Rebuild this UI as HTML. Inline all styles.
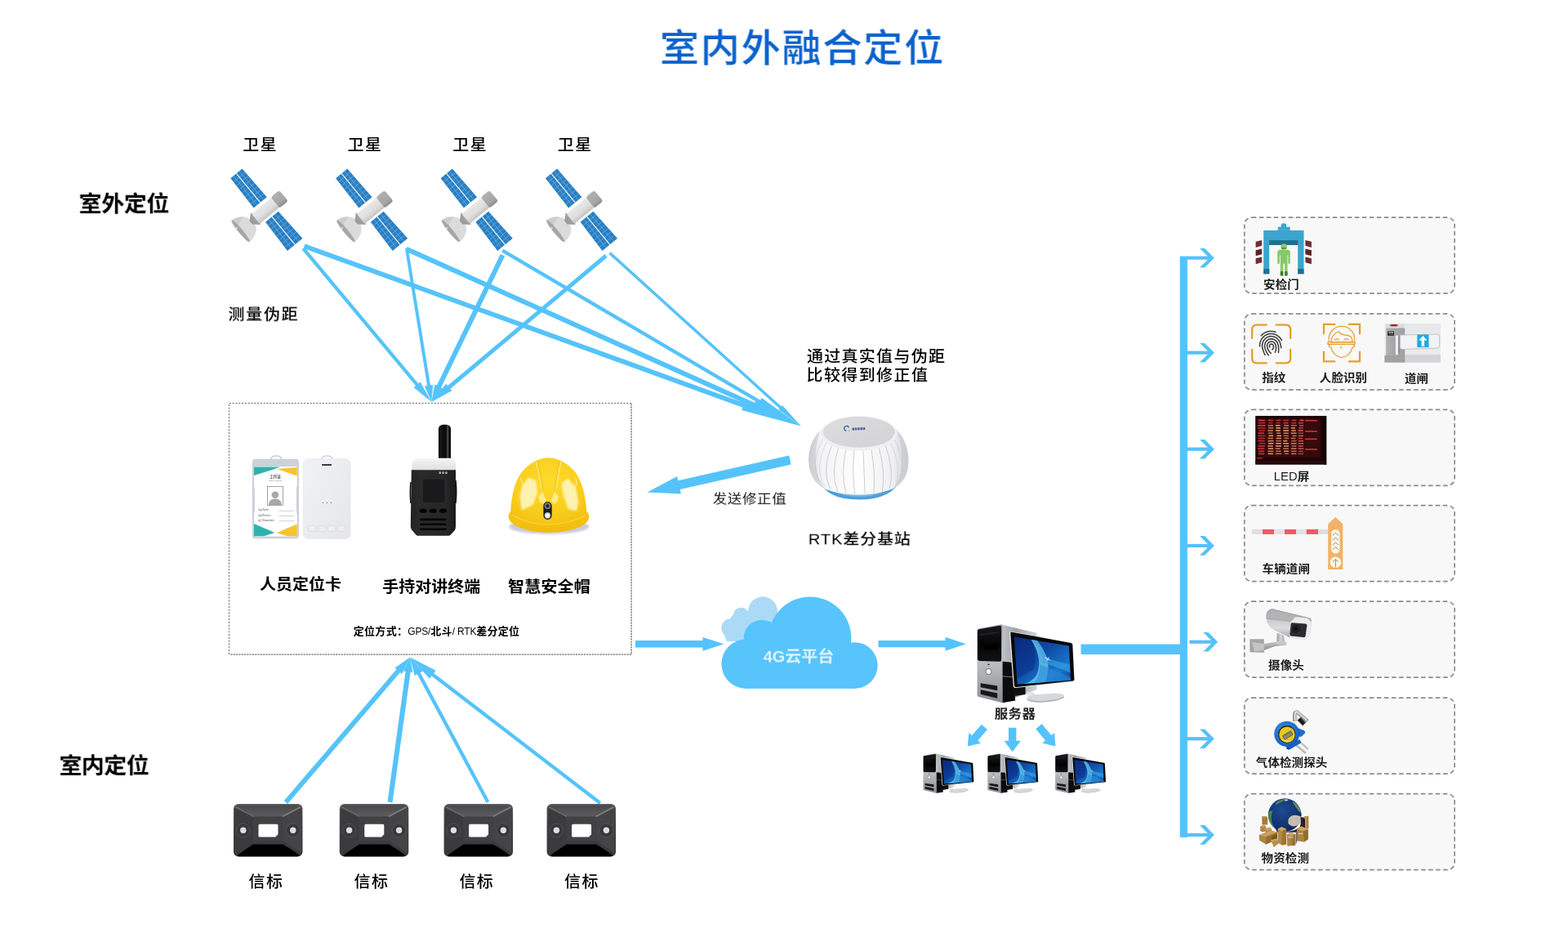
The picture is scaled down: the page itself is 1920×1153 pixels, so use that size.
<!DOCTYPE html>
<html lang="zh-CN">
<head>
<meta charset="utf-8">
<title>室内外融合定位</title>
<style>
html,body{margin:0;padding:0;background:#fff;}
body{width:1920px;height:1153px;overflow:hidden;position:relative;font-family:"Liberation Sans","Noto Sans CJK SC",sans-serif;}
svg{position:absolute;left:0;top:0;display:block;will-change:transform;}
svg text{font-family:"Liberation Sans","Noto Sans CJK SC",sans-serif;}
.t{position:absolute;white-space:nowrap;line-height:1;color:#000;margin:0;}
</style>
</head>
<body>
<svg width="1920" height="1153" viewBox="0 0 1920 1153">
<defs>
<linearGradient id="gBody" x1="0" y1="0" x2="1" y2="0"><stop offset="0" stop-color="#e9e9e9"/><stop offset="0.6" stop-color="#dedede"/><stop offset="1" stop-color="#c4c4c4"/></linearGradient>
<linearGradient id="gCap" x1="0" y1="0" x2="1" y2="0"><stop offset="0" stop-color="#b0b0b0"/><stop offset="0.7" stop-color="#a6a6a6"/><stop offset="1" stop-color="#8c8c8c"/></linearGradient>
<g id="sat"><g transform="translate(326.2,257.0) rotate(50.5)"><polygon points="-57.8,-9.2 -11.8,-10.5 -11.8,10.5 -57.8,9.2" fill="#2a7fc3"/><line x1="-52.0" y1="-9.4" x2="-52.0" y2="9.4" stroke="#6db2e4" stroke-width="0.7"/><line x1="-46.3" y1="-9.5" x2="-46.3" y2="9.5" stroke="#6db2e4" stroke-width="0.7"/><line x1="-40.5" y1="-9.7" x2="-40.5" y2="9.7" stroke="#6db2e4" stroke-width="0.7"/><line x1="-34.8" y1="-9.8" x2="-34.8" y2="9.8" stroke="#6db2e4" stroke-width="0.7"/><line x1="-29.0" y1="-10.0" x2="-29.0" y2="10.0" stroke="#6db2e4" stroke-width="0.7"/><line x1="-23.3" y1="-10.2" x2="-23.3" y2="10.2" stroke="#6db2e4" stroke-width="0.7"/><line x1="-17.5" y1="-10.3" x2="-17.5" y2="10.3" stroke="#6db2e4" stroke-width="0.7"/><line x1="-57.8" y1="-4.6" x2="-11.8" y2="-5.2" stroke="#6db2e4" stroke-width="0.7"/><line x1="-57.8" y1="4.6" x2="-11.8" y2="5.2" stroke="#6db2e4" stroke-width="0.7"/><line x1="-57.8" y1="0" x2="-11.8" y2="0" stroke="#eaf3fb" stroke-width="1.3"/><polygon points="10.6,-10.2 55.0,-12.0 55.0,12.0 10.6,10.2" fill="#2a7fc3"/><line x1="16.1" y1="-10.4" x2="16.1" y2="10.4" stroke="#6db2e4" stroke-width="0.7"/><line x1="21.7" y1="-10.6" x2="21.7" y2="10.6" stroke="#6db2e4" stroke-width="0.7"/><line x1="27.2" y1="-10.9" x2="27.2" y2="10.9" stroke="#6db2e4" stroke-width="0.7"/><line x1="32.8" y1="-11.1" x2="32.8" y2="11.1" stroke="#6db2e4" stroke-width="0.7"/><line x1="38.4" y1="-11.3" x2="38.4" y2="11.3" stroke="#6db2e4" stroke-width="0.7"/><line x1="43.9" y1="-11.6" x2="43.9" y2="11.6" stroke="#6db2e4" stroke-width="0.7"/><line x1="49.5" y1="-11.8" x2="49.5" y2="11.8" stroke="#6db2e4" stroke-width="0.7"/><line x1="10.6" y1="-5.1" x2="55.0" y2="-6.0" stroke="#6db2e4" stroke-width="0.7"/><line x1="10.6" y1="5.1" x2="55.0" y2="6.0" stroke="#6db2e4" stroke-width="0.7"/><line x1="10.6" y1="0" x2="55.0" y2="0" stroke="#eaf3fb" stroke-width="1.3"/><path d="M-17.2 41 C-17 29 -8 21.5 2 21.5 C11 21.8 17 30 17 41 Z" fill="#dbdbdb"/><path d="M-17.2 41 C-17 35 -14.5 30 -11 27 C-11 33 -8 38 -4 41 Z" fill="#cdcdcd"/><ellipse cx="-0.1" cy="40.8" rx="17.2" ry="2.7" fill="#a6a6a6"/><circle cx="-6" cy="42" r="1.1" fill="#e6e6e6"/><path d="M-9 17.5 L9 17.5 L2.6 24.5 L-2.6 24.5 Z" fill="#9c9c9c"/><ellipse cx="0" cy="17.3" rx="9.2" ry="2.4" fill="#a2a2a2"/><rect x="-7.8" y="-15" width="15.6" height="32" rx="1.2" fill="url(#gBody)"/><rect x="-8.6" y="-27.5" width="17.2" height="13.5" rx="3" fill="url(#gCap)"/></g></g>
<linearGradient id="gBk" x1="0" y1="0" x2="0" y2="1"><stop offset="0" stop-color="#58585a"/><stop offset="0.45" stop-color="#404042"/><stop offset="1" stop-color="#38383a"/></linearGradient>
<linearGradient id="gBkTop" x1="0" y1="0" x2="0" y2="1"><stop offset="0" stop-color="#4a4a4c"/><stop offset="1" stop-color="#5c5c5e"/></linearGradient>
<g id="beacon">
<rect x="0" y="0" width="84.5" height="64.5" rx="6" fill="url(#gBk)"/>
<path d="M3 2 L81.5 2 L60 15.5 L24.5 15.5 Z" fill="url(#gBkTop)"/>
<path d="M1.5 5 L24 16 L24 45 L1.5 60 Z" fill="#3b3b3d"/>
<path d="M83 5 L60.5 16 L60.5 45 L83 60 Z" fill="#444446"/>
<rect x="24" y="15.5" width="36.5" height="30" fill="#414143"/>
<path d="M3 4 L24.5 15.5" stroke="#7a7a7c" stroke-width="1.4" fill="none" opacity="0.7"/>
<path d="M81.5 4 L60 15.5" stroke="#8a8a8c" stroke-width="1.6" fill="none" opacity="0.8"/>
<path d="M5 62.5 Q14 56 24 49.5 L60.5 49.5 Q72 56 80 62.5 Q81 64 78 64.3 L6.5 64.3 Q4 64 5 62.5 Z" fill="#000"/>
<path d="M32 24.8 h21 a1.5 1.5 0 0 1 1.5 1.5 v11 l-3.2 3.2 h-19.3 a1.5 1.5 0 0 1 -1.5 -1.5 v-12.7 a1.5 1.5 0 0 1 1.5 -1.5 Z" fill="#fff"/>
<circle cx="11.8" cy="32.3" r="8.2" fill="#38383a" stroke="#555557" stroke-width="0.8"/>
<circle cx="11.8" cy="32.3" r="3.7" fill="#dedede"/>
<circle cx="72.8" cy="32.3" r="8.2" fill="#38383a" stroke="#555557" stroke-width="0.8"/>
<circle cx="72.8" cy="32.3" r="3.7" fill="#dedede"/>
</g>
<linearGradient id="gWhiteCard" x1="0" y1="0" x2="1" y2="1"><stop offset="0" stop-color="#f1f2f5"/><stop offset="1" stop-color="#e4e6ea"/></linearGradient>
<linearGradient id="gAnt" x1="0" y1="0" x2="1" y2="0"><stop offset="0" stop-color="#1a1a1a"/><stop offset="0.5" stop-color="#0a0a0a"/><stop offset="0.66" stop-color="#151515"/><stop offset="0.74" stop-color="#5a5a5a"/><stop offset="0.84" stop-color="#111"/><stop offset="1" stop-color="#0a0a0a"/></linearGradient>
<linearGradient id="gWT" x1="0" y1="0" x2="1" y2="0"><stop offset="0" stop-color="#232323"/><stop offset="0.2" stop-color="#2a2a2a"/><stop offset="0.8" stop-color="#262626"/><stop offset="1" stop-color="#1a1a1a"/></linearGradient>
<linearGradient id="gWTtop" x1="0" y1="0" x2="0" y2="1"><stop offset="0" stop-color="#f6f6f6"/><stop offset="1" stop-color="#dcdcdc"/></linearGradient>
<radialGradient id="gHelm" cx="0.5" cy="0.35" r="0.8"><stop offset="0" stop-color="#fdda2c"/><stop offset="0.6" stop-color="#f9cd1c"/><stop offset="1" stop-color="#f2bd0e"/></radialGradient>
<linearGradient id="gBrim" x1="0" y1="0" x2="0" y2="1"><stop offset="0" stop-color="#f7c618"/><stop offset="1" stop-color="#f1bb0c"/></linearGradient>
<linearGradient id="gRtk" x1="0" y1="0" x2="1" y2="0"><stop offset="0" stop-color="#d9dadd"/><stop offset="0.12" stop-color="#f3f3f5"/><stop offset="0.5" stop-color="#ffffff"/><stop offset="0.85" stop-color="#efeff1"/><stop offset="1" stop-color="#cfd0d4"/></linearGradient>
<linearGradient id="gRtkTop" x1="0" y1="0" x2="1" y2="1"><stop offset="0" stop-color="#dedee0"/><stop offset="1" stop-color="#d2d2d5"/></linearGradient>
<filter id="soft" x="-20%" y="-20%" width="140%" height="140%"><feGaussianBlur stdDeviation="1.2"/></filter>
<filter id="soft3" x="-20%" y="-20%" width="140%" height="140%"><feGaussianBlur stdDeviation="0.9"/></filter>
<filter id="soft2" x="-20%" y="-20%" width="140%" height="140%"><feGaussianBlur stdDeviation="0.5"/></filter>
<linearGradient id="gScr" x1="0" y1="0" x2="1" y2="1"><stop offset="0" stop-color="#0a2a7c"/><stop offset="0.45" stop-color="#0f4ea8"/><stop offset="0.75" stop-color="#1878cc"/><stop offset="1" stop-color="#0c3a92"/></linearGradient>
<linearGradient id="gSilver" x1="0" y1="0" x2="0" y2="1"><stop offset="0" stop-color="#a4a8ab"/><stop offset="0.35" stop-color="#c9ccce"/><stop offset="1" stop-color="#8a8e92"/></linearGradient>
<linearGradient id="gSide" x1="0" y1="0" x2="1" y2="0"><stop offset="0" stop-color="#c4c7ca"/><stop offset="0.4" stop-color="#9fa3a7"/><stop offset="1" stop-color="#d2d5d7"/></linearGradient>
<linearGradient id="gBlk" x1="0" y1="0" x2="0" y2="1"><stop offset="0" stop-color="#1a1a1c"/><stop offset="0.5" stop-color="#050506"/><stop offset="1" stop-color="#121214"/></linearGradient>
<clipPath id="scrClip"><path d="M46 16.2 L113.5 27.2 L115.6 69 L50 73.5 Z"/></clipPath>
<g id="pc">
<path d="M29.5 1.2 L74 11.6 L74 80 L30 96.2 Z" fill="url(#gSide)"/>
<path d="M31 46 L44 47.5 L47.5 93.5 L31.5 96 Z" fill="#0c0c0e"/>
<path d="M31 64 L45 65" stroke="#777" stroke-width="1" fill="none"/>
<path d="M0.6 8.5 Q0.6 6.6 2.5 6.2 L29 1.4 Q31.8 1 31.8 3.5 V96 L2.6 89 Q0.6 88.4 0.6 86.5 Z" fill="url(#gSilver)"/>
<path d="M0.9 9.5 Q0.9 7.6 2.8 7.2 L28 2.8 Q30.4 2.5 30.4 4.8 V43.5 Q30.4 46.4 27.5 46.3 L3.5 45.5 Q0.9 45.3 0.9 43 Z" fill="url(#gBlk)"/>
<path d="M9 26.5 L27 24.8 V31.5 L9 32.4 Z" fill="#000"/>
<path d="M3 14 L27 10.5" stroke="#2c2c2e" stroke-width="1" fill="none"/>
<circle cx="14.6" cy="58.3" r="3.4" fill="#f2f2f2" stroke="#7e8286" stroke-width="1"/>
<path d="M13 50.5 l1.6 -2 l1.6 2 Z" fill="#333"/>
<path d="M4.8 72.4 L25.4 75.6 V81.2 L4.8 77.4 Z" fill="#17171a"/>
<path d="M4.8 80.4 L25.4 84.6 V90.6 L4.8 85.8 Z" fill="#17171a"/>
<path d="M44 74 L60 73 L60 86 L46 88 Z" fill="#111"/>
<path d="M62.5 82.5 L71 83.5 L71.5 88 L62 88 Z" fill="#e3e5e7"/>
<path d="M62 90.5 Q62 87 72 86 L99 84.5 Q108 85 107.5 88.5 Q99 93 79 94 Q64 94 62 90.5 Z" fill="#d6d9db"/>
<path d="M62 90.5 Q64 94 79 94 Q99 93 107.5 88.5 L107.5 89.8 Q99 94.6 79 95.6 Q64 95.6 62 91.8 Z" fill="#a9adb0"/>
<path d="M40.2 11.8 Q40 9.4 42.5 9.8 L116 23 Q118.3 23.5 118.4 25.5 L120.6 68.2 Q120.7 70.2 118.5 70.5 L48 78 Q45.3 78.2 45 75.8 Z" fill="#e8eaec"/>
<path d="M41.5 12 Q41.3 10.2 43.2 10.5 L115.8 23.7 Q117.8 24.1 117.9 25.8 L120 67.8 Q120.1 69.5 118.2 69.7 L48.6 77 Q46.4 77.2 46.2 75 Z" fill="#08080a"/>
<path d="M46 16.2 L113.5 27.2 L115.6 69 L50 73.5 Z" fill="url(#gScr)"/>
<g clip-path="url(#scrClip)">
<path d="M66 18 Q82 42 74 62 Q68 72 54 74 L84 72 Q92 52 84 36 Q78 24 72 19 Z" fill="#6fd0f2" opacity="0.75"/>
<path d="M70 19 Q80 34 82 48 Q96 52 116 60 L116 50 Q98 46 86 42 Q80 28 74 19.5 Z" fill="#3da4e4" opacity="0.6"/>
<path d="M78 50 Q96 56 116 66 L116 70 L70 73 Q78 64 78 50 Z" fill="#2d8ad6" opacity="0.6"/>
<path d="M46 16 L66 19 Q76 34 70 56 L50 66 Z" fill="#08277a" opacity="0.45"/>
<path d="M84 41 l6 3.5 M86 45 l3 -4" stroke="#d8f2ff" stroke-width="1" fill="none" opacity="0.9"/>
</g>
</g>
<filter id="darken" x="-5%" y="-5%" width="110%" height="110%" color-interpolation-filters="sRGB"><feComponentTransfer><feFuncR type="linear" slope="0.9"/><feFuncG type="linear" slope="0.88"/><feFuncB type="linear" slope="0.86"/></feComponentTransfer><feGaussianBlur stdDeviation="0.25"/></filter>
<filter id="ledblur" x="-5%" y="-5%" width="110%" height="110%"><feGaussianBlur stdDeviation="0.45"/></filter>
<linearGradient id="gTurn" x1="0" y1="0" x2="0" y2="1"><stop offset="0" stop-color="#e6e8ea"/><stop offset="0.75" stop-color="#e9ebec"/><stop offset="1" stop-color="#d8dadc"/></linearGradient>
<linearGradient id="gPost" x1="0" y1="0" x2="1" y2="0"><stop offset="0" stop-color="#b4b4b6"/><stop offset="0.5" stop-color="#a6a6a8"/><stop offset="1" stop-color="#a0a0a2"/></linearGradient>
<linearGradient id="gCam" x1="0" y1="0" x2="0" y2="1"><stop offset="0" stop-color="#c6c7c9"/><stop offset="0.5" stop-color="#dcdddf"/><stop offset="1" stop-color="#a6a7aa"/></linearGradient>
<radialGradient id="gGlobe" cx="0.42" cy="0.35" r="0.72"><stop offset="0" stop-color="#1f58a8"/><stop offset="0.6" stop-color="#163d8c"/><stop offset="1" stop-color="#0e2a66"/></radialGradient>
<radialGradient id="gGas" cx="0.4" cy="0.35" r="0.8"><stop offset="0" stop-color="#3b8ee6"/><stop offset="0.7" stop-color="#1a66c8"/><stop offset="1" stop-color="#0f49a0"/></radialGradient>
<linearGradient id="gBoxA" x1="0" y1="0" x2="1" y2="1"><stop offset="0" stop-color="#e2b56a"/><stop offset="1" stop-color="#b98536"/></linearGradient>
<linearGradient id="gSteel" x1="0" y1="0" x2="1" y2="1"><stop offset="0" stop-color="#f0f0f0"/><stop offset="0.5" stop-color="#8e8e90"/><stop offset="1" stop-color="#e0e0e0"/></linearGradient>
</defs>
<g id="rays"><polygon fill="#55c3fb" points="371.6,303.9 909.3,498.7 908.1,502.1 980.8,521.5 912.5,489.8 911.3,493.2 373.6,298.5"/><polygon fill="#55c3fb" points="496.4,307.5 922.1,498.5 920.7,501.5 980.8,521.5 925.9,490.0 924.5,493.0 498.8,302.1"/><polygon fill="#55c3fb" points="614.1,308.5 928.8,493.5 927.3,496.2 980.8,521.5 932.6,487.0 931.0,489.7 616.3,304.7"/><polygon fill="#55c3fb" points="745.3,310.9 954.4,500.0 953.2,501.3 980.8,521.5 957.9,496.1 956.8,497.4 747.7,308.3"/><polygon fill="#55c3fb" points="369.6,305.4 509.0,472.3 506.6,474.3 528.3,492.0 514.7,467.5 512.3,469.5 372.8,302.6"/><polygon fill="#55c3fb" points="496.0,304.3 523.1,472.1 519.9,472.6 528.3,492.0 530.2,470.9 527.0,471.5 499.8,303.7"/><polygon fill="#55c3fb" points="612.8,310.9 534.8,471.8 532.2,470.6 528.3,492.0 542.7,475.6 540.1,474.4 618.2,313.5"/><polygon fill="#55c3fb" points="740.5,311.1 548.2,472.1 546.2,469.7 528.3,492.0 553.4,478.3 551.3,475.9 743.7,314.9"/><polygon fill="#55c3fb" points="352.2,983.9 490.0,823.0 492.2,824.8 502.1,804.4 483.4,817.4 485.5,819.2 347.8,980.1"/><polygon fill="#55c3fb" points="480.5,982.4 502.7,822.6 505.3,823.0 502.1,804.4 493.9,821.4 496.6,821.8 474.5,981.6"/><polygon fill="#55c3fb" points="599.4,981.0 514.7,823.2 517.8,821.5 502.1,804.4 507.7,826.9 510.8,825.3 595.6,983.0"/><polygon fill="#55c3fb" points="736.3,981.3 531.2,824.0 533.7,820.7 502.1,804.4 526.1,830.7 528.5,827.4 733.7,984.7"/><polygon fill="#55c3fb" points="966.3,557.6 830.3,588.3 829.1,583.0 792.5,602.5 833.9,604.4 832.7,599.1 968.7,568.4"/></g>
<g id="devbox"><rect x="281" y="494" width="492.5" height="307" fill="#fff" stroke="none"/><path d="M773.1 494.5V801.1H281.5" fill="none" stroke="#e4e4e4" stroke-width="1.8"/><path d="M773.1 494.5V801.1H281.5" fill="none" stroke="#8e8e8e" stroke-width="1.8" stroke-dasharray="1.7 1.6"/><path d="M280.5 801V493.5H773" fill="none" stroke="#6e6e6e" stroke-width="1" stroke-dasharray="2.2 1.6"/></g>
<g id="sats"><use href="#sat" x="0.0" y="0"/><use href="#sat" x="128.8" y="0"/><use href="#sat" x="257.3" y="0"/><use href="#sat" x="385.6" y="0"/></g>
<g id="devices"><g id="idcard"><path d="M332 562 q0 -4 6.3 -4 q6.3 0 6.3 4" fill="none" stroke="#c9cdd4" stroke-width="1.6"/><rect x="308.8" y="561.8" width="57.2" height="97.5" rx="4" fill="#cdd1d9"/><rect x="311" y="571" width="52.8" height="85.6" rx="1.5" fill="#fff"/><path d="M311 571.5 H343 L335 574.5 L311 582 Z" fill="#2fb3b0"/><path d="M339 574 L363.8 572 V582.5 L355 579.5 Z" fill="#f6c430"/><path d="M311 641 L336.5 652 L323 656.3 H311 Z" fill="#2fb3b0"/><path d="M363.8 641.5 V656.3 H352 L338.5 652.3 Z" fill="#f6c430"/><path d="M309.5 592 q2.4 3 2.4 8 v24 q0 5 -2.4 8 Z" fill="#cdd1d9"/><path d="M365.3 592 q-2.4 3 -2.4 8 v24 q0 5 2.4 8 Z" fill="#cdd1d9"/><text x="337" y="585.2" font-size="4.6" font-weight="700" fill="#555" text-anchor="middle">工作证</text><text x="337" y="588.9" font-size="2.4" fill="#777" text-anchor="middle">WORK PERMIT</text><rect x="327.4" y="595.5" width="19" height="23" fill="#fff" stroke="#666" stroke-width="0.6"/><circle cx="336.9" cy="605.8" r="4.3" fill="#a8a8a8"/><path d="M329 618 q0 -7.5 7.9 -7.5 q7.9 0 7.9 7.5 Z" fill="#a8a8a8"/><text x="316.2" y="625.3" font-size="2.6" fill="#555">姓名/Name</text><line x1="341.5" y1="625.3" x2="360" y2="625.3" stroke="#888" stroke-width="0.4"/><text x="316.2" y="631.5" font-size="2.6" fill="#555">职位/Position</text><line x1="341.5" y1="631.5" x2="360" y2="631.5" stroke="#888" stroke-width="0.4"/><text x="316.2" y="637.7" font-size="2.6" fill="#555">部门/Department</text><line x1="341.5" y1="637.7" x2="360" y2="637.7" stroke="#888" stroke-width="0.4"/></g><g id="tag"><path d="M394 562 q0 -4 6.4 -4 q6.4 0 6.4 4" fill="none" stroke="#d0d3d8" stroke-width="1.6"/><rect x="371.6" y="561.8" width="57.4" height="97.6" rx="5.5" fill="url(#gWhiteCard)" stroke="#dfe1e5" stroke-width="0.6"/><rect x="394" y="568" width="12.2" height="2" rx="0.8" fill="#3a3a3e"/><circle cx="395.3" cy="615.3" r="0.65" fill="#666"/><circle cx="395.3" cy="612.2" r="0.9" fill="#fff" opacity="0.9"/><circle cx="400.3" cy="615.3" r="0.65" fill="#666"/><circle cx="400.3" cy="612.2" r="0.9" fill="#fff" opacity="0.9"/><circle cx="405.3" cy="615.3" r="0.65" fill="#666"/><circle cx="405.3" cy="612.2" r="0.9" fill="#fff" opacity="0.9"/><rect x="377.3" y="643.3" width="9.4" height="7.2" rx="2.2" fill="#eceef1" stroke="#d2d5da" stroke-width="0.6"/><rect x="389.3" y="643.3" width="9.4" height="7.2" rx="2.2" fill="#eceef1" stroke="#d2d5da" stroke-width="0.6"/><rect x="401.2" y="643.3" width="9.4" height="7.2" rx="2.2" fill="#eceef1" stroke="#d2d5da" stroke-width="0.6"/><rect x="413.2" y="643.3" width="9.4" height="7.2" rx="2.2" fill="#eceef1" stroke="#d2d5da" stroke-width="0.6"/></g><g id="walkie"><rect x="536.9" y="519.7" width="15.2" height="46" rx="5.5" fill="url(#gAnt)"/><path d="M504.2 577 V569 Q505 561 512.5 560.8 H553 Q557.8 562 558 569 V577 Z" fill="url(#gWTtop)"/><path d="M503.8 575.2 H558 L558 645 Q558 648 556 650 L551.5 654.8 Q550.5 655.8 549 655.8 H512 Q510.5 655.8 509.5 654.8 L504.5 649 Q502.8 647 502.8 644 Z" fill="url(#gWT)"/><path d="M503 590 q-1.2 12 0 26 M558 588 q1.4 14 0 28" stroke="#111" stroke-width="1.6" fill="none"/><rect x="516.6" y="584.6" width="29.2" height="31.4" rx="1.6" fill="#2b2b2d"/><rect x="518" y="586.4" width="26.4" height="28.6" rx="1" fill="#1a1a1c"/><rect x="537.6" y="577.4" width="2.4" height="2.6" fill="#c8c8c8" opacity="0.85"/><rect x="541.4" y="577.4" width="2.4" height="2.6" fill="#c8c8c8" opacity="0.85"/><rect x="545.2" y="577.4" width="2.4" height="2.6" fill="#c8c8c8" opacity="0.85"/><ellipse cx="518.2" cy="625.2" rx="4.5" ry="2.6" fill="#050505"/><ellipse cx="530.3" cy="625.2" rx="4.5" ry="2.6" fill="#050505"/><ellipse cx="542.4" cy="625.2" rx="4.5" ry="2.6" fill="#050505"/><rect x="514" y="634.6" width="32.8" height="2.6" rx="1.2" fill="#060606"/><rect x="514" y="640.4" width="32.8" height="2.6" rx="1.2" fill="#060606"/><rect x="514" y="646.4" width="32.8" height="2.6" rx="1.2" fill="#060606"/></g><g id="helmet"><ellipse cx="672.2" cy="644.8" rx="49" ry="9" fill="#8a90b0" opacity="0.45" filter="url(#soft)"/><path d="M 625.7 625.7 C 620.3 630.2 621.4 639.2 633.8 644.8 C 648.5 651.0 663.1 651.8 672.2 651.8 C 681.2 651.8 695.8 651.0 710.5 644.8 C 722.9 639.2 723.4 630.2 718.2 625.7 Z" fill="url(#gBrim)"/><path d="M 625.0 629.1 C 626.2 607.6 629.5 586.2 643.4 572.9 C 653.0 564.2 663.1 560.3 671.6 560.3 C 680.0 560.3 690.2 564.2 699.8 572.9 C 713.6 586.2 717.0 607.6 718.6 629.1 C 701.5 639.2 685.7 641.5 671.6 641.5 C 657.5 641.5 641.7 639.2 625.0 629.1 Z" fill="url(#gHelm)"/><path d="M 627.1 630.2 C 641.7 639.2 657.5 642.0 671.6 642.0 C 685.7 642.0 701.5 639.2 717.2 630.2" fill="none" stroke="#ffe45a" stroke-width="1.4" opacity="0.45"/><polygon points="639.5,594.1 647.4,584.5 656.4,588.5 658.1,603.1 653.0,617.8 638.9,624.6 636.3,607.6" fill="#fff6c0" opacity="0.9" filter="url(#soft3)"/><polygon points="687.4,591.3 695.8,585.7 704.8,596.4 708.2,613.3 706.0,625.7 695.8,622.9 690.2,607.6" fill="#fff6c0" opacity="0.9" filter="url(#soft3)"/><path d="M656.4 565.4 Q661.4 582.8 662.9 598.6" fill="none" stroke="#fff0a0" stroke-width="1.2" opacity="0.9"/><path d="M686.8 565.4 Q682.9 582.8 681.4 598.6" fill="none" stroke="#fff0a0" stroke-width="1.2" opacity="0.9"/><path d="M658.1 565.4 Q663.1 582.8 664.6 598.6" fill="none" stroke="#e8b800" stroke-width="0.9" opacity="0.7"/><path d="M685.1 565.4 Q681.2 582.8 679.7 598.6" fill="none" stroke="#e8b800" stroke-width="0.9" opacity="0.7"/><polygon points="659.2,607.6 664.3,601.4 668.8,612.2 665.4,616.7 660.9,614.4" fill="#fff0a0" opacity="0.8" filter="url(#soft2)"/><polygon points="684.0,607.6 678.9,601.4 675.0,612.2 677.8,616.7 682.3,614.4" fill="#fff0a0" opacity="0.8" filter="url(#soft2)"/><path d="M704.3 585.1 Q708.2 590.7 703.2 598.6" fill="none" stroke="#fff0a0" stroke-width="1.2" opacity="0.8"/><path d="M637.2 585.1 Q638.9 589.6 640.0 593.0" fill="none" stroke="#fff0a0" stroke-width="1.2" opacity="0.8"/><rect x="665.4" y="614.2" width="10.3" height="21.8" rx="5" fill="#1c1c1e"/><circle cx="670.5" cy="619.2" r="3.5" fill="#5a6068" stroke="#9a9a9a" stroke-width="0.8"/><circle cx="670.5" cy="619.2" r="1.7" fill="#182028"/><circle cx="670.5" cy="630.9" r="3.6" fill="#f6f6f2" stroke="#8a8a8a" stroke-width="1"/></g></g>
<g id="rtk"><path d="M1003 588 Q1012 611.6 1052 611.6 Q1092 611.6 1104 586 Q1082 606 1052 606 Q1022 606 1003 588 Z" fill="#4a9fdc"/><path d="M1003 588 Q1022 603 1052 603 Q1082 603 1104 586 Q1084 608 1052 608 Q1020 608 1003 588 Z" fill="#8cc6ee" opacity="0.7"/><path d="M990.2 565 Q989.5 542 1004 527 Q1020 509.6 1052 509.6 Q1082 509.6 1098 526 Q1112.8 542 1112.4 566 Q1111.5 589 1094 598 Q1076 605.4 1052 605.4 Q1026 605.4 1009 598 Q991.5 589 990.2 565 Z" fill="url(#gRtk)"/><path d="M1008.7 534.9 Q989.9 569.9 1004.9 590.5" fill="none" stroke="#c4c5ca" stroke-width="0.9" opacity="0.60"/><path d="M1013.0 539.2 Q995.9 573.0 1009.7 595.0" fill="none" stroke="#c4c5ca" stroke-width="0.9" opacity="0.60"/><path d="M1019.5 543.0 Q1005.2 575.7 1017.0 598.9" fill="none" stroke="#c4c5ca" stroke-width="0.9" opacity="0.95"/><path d="M1027.3 545.9 Q1016.2 577.7 1025.8 601.8" fill="none" stroke="#c4c5ca" stroke-width="0.9" opacity="0.95"/><path d="M1036.3 547.8 Q1029.0 579.2 1035.9 603.8" fill="none" stroke="#c4c5ca" stroke-width="0.9" opacity="0.95"/><path d="M1046.1 548.9 Q1042.8 579.9 1046.9 604.9" fill="none" stroke="#c4c5ca" stroke-width="0.9" opacity="0.95"/><path d="M1056.9 548.9 Q1058.2 579.9 1059.1 604.9" fill="none" stroke="#c4c5ca" stroke-width="0.9" opacity="0.95"/><path d="M1066.7 547.8 Q1072.0 579.2 1070.1 603.8" fill="none" stroke="#c4c5ca" stroke-width="0.9" opacity="0.95"/><path d="M1075.7 545.9 Q1084.8 577.7 1080.2 601.8" fill="none" stroke="#c4c5ca" stroke-width="0.9" opacity="0.95"/><path d="M1083.5 543.0 Q1095.8 575.7 1089.0 598.9" fill="none" stroke="#c4c5ca" stroke-width="0.9" opacity="0.95"/><path d="M1090.0 539.2 Q1105.1 573.0 1096.3 595.0" fill="none" stroke="#c4c5ca" stroke-width="0.9" opacity="0.60"/><path d="M1094.3 534.9 Q1111.1 569.9 1101.1 590.5" fill="none" stroke="#c4c5ca" stroke-width="0.9" opacity="0.60"/><path d="M990.2 565 Q989.5 542 1004 527 Q997 545 999 568 Q1001 588 1011 599 Q991.5 589 990.2 565 Z" fill="#c4c5ca" opacity="0.55" filter="url(#soft2)"/><path d="M1112.4 566 Q1112.8 542 1098 526 Q1105 545 1104 568 Q1102 588 1093 598.5 Q1111.5 589 1112.4 566 Z" fill="#c4c5ca" opacity="0.5" filter="url(#soft2)"/><ellipse cx="1051.8" cy="530.8" rx="46.6" ry="21" fill="#f0f0f2"/><ellipse cx="1051.8" cy="528.8" rx="44" ry="19" fill="url(#gRtkTop)"/><path d="M1036.3 527.4 a3 3 0 1 1 3.2 -4" fill="none" stroke="#2a4fa0" stroke-width="1.1"/><path d="M1039 526.5 l0.8 1.6" fill="none" stroke="#6aa82a" stroke-width="0.8"/><rect x="1043.5" y="523.6" width="2.6" height="3" fill="#3a4f86" opacity="0.85"/><rect x="1046.8" y="523.5" width="2.6" height="3" fill="#3a4f86" opacity="0.85"/><rect x="1050.1" y="523.4" width="2.6" height="3" fill="#3a4f86" opacity="0.85"/><rect x="1053.4" y="523.2" width="2.6" height="3" fill="#3a4f86" opacity="0.85"/><rect x="1056.7" y="523.1" width="2.6" height="3" fill="#3a4f86" opacity="0.85"/></g>
<g id="cloud"><polygon fill="#55c3fb" points="778.0,792.4 860.5,792.4 860.5,796.7 886.5,788.3 860.5,779.9 860.5,784.1 778.0,784.1"/><polygon fill="#55c3fb" points="1075.5,792.3 1157.5,792.3 1157.5,796.7 1183.0,788.2 1157.5,779.7 1157.5,784.1 1075.5,784.1"/><circle cx="934.0" cy="748.3" r="18.0" fill="#abdaf7"/><circle cx="907.5" cy="753.0" r="9.6" fill="#abdaf7"/><circle cx="894.6" cy="768.5" r="11.2" fill="#abdaf7"/><path d="M898 752 L950 745 L960 785 L890 785 L884 770 Z" fill="#abdaf7"/><circle cx="991.8" cy="781.0" r="50.6" fill="#57c4fc"/><circle cx="933.0" cy="781.0" r="22.3" fill="#57c4fc"/><circle cx="913.6" cy="812.6" r="30.2" fill="#57c4fc"/><circle cx="1046.4" cy="814.5" r="28.3" fill="#57c4fc"/><rect x="913" y="790" width="134" height="52.8" fill="#57c4fc"/></g>
<g id="pcs"><rect x="1323.6" y="788.5" width="125" height="12.5" fill="#55c3fb"/><use href="#pc" transform="translate(1196,763) scale(0.995,1.012)"/><use href="#pc" transform="translate(1130.2,921.6) scale(0.518,0.512)"/><use href="#pc" transform="translate(1209.0,921.6) scale(0.518,0.512)"/><use href="#pc" transform="translate(1291.8,921.6) scale(0.518,0.512)"/><polygon fill="#55c3fb" points="1201.8,886.7 1190.0,900.2 1186.3,896.9 1184.8,913.5 1201.0,909.7 1197.3,906.5 1209.0,892.9"/><polygon fill="#55c3fb" points="1235.0,890.7 1235.0,906.7 1229.5,906.7 1239.7,920.2 1250.0,906.7 1244.4,906.7 1244.4,890.7"/><polygon fill="#55c3fb" points="1268.3,892.3 1280.0,906.2 1276.3,909.4 1292.4,913.5 1291.2,896.9 1287.4,900.1 1275.7,886.1"/></g>
<g id="right"><rect x="1444.8" y="313.6" width="9.2" height="711.3" fill="#55c3fb"/><rect x="1454.0" y="313.6" width="27.9" height="4.2" fill="#54c1f8"/><polygon points="1469.1,303.9 1475.2,303.9 1486.9,315.7 1475.2,327.5 1469.1,327.5 1480.8,315.7" fill="#54c1f8"/><rect x="1454.0" y="429.6" width="27.9" height="4.2" fill="#54c1f8"/><polygon points="1469.1,419.9 1475.2,419.9 1486.9,431.7 1475.2,443.5 1469.1,443.5 1480.8,431.7" fill="#54c1f8"/><rect x="1454.0" y="547.6" width="27.9" height="4.2" fill="#54c1f8"/><polygon points="1469.1,537.9 1475.2,537.9 1486.9,549.7 1475.2,561.5 1469.1,561.5 1480.8,549.7" fill="#54c1f8"/><rect x="1454.0" y="665.8" width="27.9" height="4.2" fill="#54c1f8"/><polygon points="1469.1,656.1 1475.2,656.1 1486.9,667.9 1475.2,679.7 1469.1,679.7 1480.8,667.9" fill="#54c1f8"/><rect x="1456.5" y="783.6" width="29.7" height="4.2" fill="#54c1f8"/><polygon points="1473.4,773.9 1479.5,773.9 1491.2,785.7 1479.5,797.5 1473.4,797.5 1485.1,785.7" fill="#54c1f8"/><rect x="1454.0" y="902.1" width="27.9" height="4.2" fill="#54c1f8"/><polygon points="1469.1,892.4 1475.2,892.4 1486.9,904.2 1475.2,916.0 1469.1,916.0 1480.8,904.2" fill="#54c1f8"/><rect x="1454.0" y="1019.8" width="27.9" height="4.2" fill="#54c1f8"/><polygon points="1469.1,1010.1 1475.2,1010.1 1486.9,1021.9 1475.2,1033.7 1469.1,1033.7 1480.8,1021.9" fill="#54c1f8"/><rect x="1523.8" y="266.2" width="257.4" height="93" rx="9" fill="#f8f8f8" stroke="#8c8c8c" stroke-width="1.7" stroke-dasharray="5.6 3.4"/><rect x="1523.8" y="384.2" width="257.4" height="93" rx="9" fill="#f8f8f8" stroke="#8c8c8c" stroke-width="1.7" stroke-dasharray="5.6 3.4"/><rect x="1523.8" y="501.4" width="257.4" height="93" rx="9" fill="#f8f8f8" stroke="#8c8c8c" stroke-width="1.7" stroke-dasharray="5.6 3.4"/><rect x="1523.8" y="618.6" width="257.4" height="93" rx="9" fill="#f8f8f8" stroke="#8c8c8c" stroke-width="1.7" stroke-dasharray="5.6 3.4"/><rect x="1523.8" y="736.2" width="257.4" height="93" rx="9" fill="#f8f8f8" stroke="#8c8c8c" stroke-width="1.7" stroke-dasharray="5.6 3.4"/><rect x="1523.8" y="854.2" width="257.4" height="93" rx="9" fill="#f8f8f8" stroke="#8c8c8c" stroke-width="1.7" stroke-dasharray="5.6 3.4"/><rect x="1523.8" y="971.6" width="257.4" height="93" rx="9" fill="#f8f8f8" stroke="#8c8c8c" stroke-width="1.7" stroke-dasharray="5.6 3.4"/><g id="gate"><circle cx="1571.9" cy="276.6" r="3.3" fill="#3ba5cf"/><rect x="1564.7" y="277.7" width="15.0" height="4.2" fill="#3ba5cf"/><path d="M1547.2 282.0 H1596.5 V335.3 H1589.2 V299.9 H1554.2 V335.3 H1547.2 Z" fill="#3ba5cf"/><rect x="1554.2" y="294.1" width="35.0" height="5.8" fill="#226e8e"/><rect x="1547.2" y="329.1" width="7.1" height="6.2" fill="#226e8e"/><rect x="1589.2" y="329.1" width="7.3" height="6.2" fill="#226e8e"/><circle cx="1572.1" cy="302.0" r="3.7" fill="#86ca68"/><polygon points="1566.3,305.8 1578.0,305.8 1579.8,307.9 1579.8,322.8 1577.3,322.8 1577.3,312.4 1576.5,312.4 1576.5,337.4 1573.2,337.4 1573.2,322.8 1571.3,322.8 1571.3,337.4 1567.8,337.4 1567.8,312.4 1566.9,312.4 1566.9,322.8 1564.2,322.8 1564.2,307.9" fill="#86ca68"/><rect x="1567.8" y="332.2" width="3.5" height="5.2" fill="#3f7a30"/><rect x="1573.2" y="332.2" width="3.3" height="5.2" fill="#3f7a30"/><rect x="1569.0" y="303.1" width="6.2" height="1.7" fill="#3f7a30" opacity="0.7"/><path d="M1537.6 295.8 L1545.1 294.1 L1545.1 300.8 L1537.6 302.9 Z" fill="#702c32"/><path d="M1605.9 295.8 L1598.4 294.1 L1598.4 300.8 L1605.9 302.9 Z" fill="#702c32"/><path d="M1537.6 306.2 L1545.1 304.5 L1545.1 311.2 L1537.6 313.3 Z" fill="#5c2228"/><path d="M1605.9 306.2 L1598.4 304.5 L1598.4 311.2 L1605.9 313.3 Z" fill="#5c2228"/><path d="M1537.6 316.2 L1545.1 314.5 L1545.1 321.2 L1537.6 323.3 Z" fill="#702c32"/><path d="M1605.9 316.2 L1598.4 314.5 L1598.4 321.2 L1605.9 323.3 Z" fill="#702c32"/></g><g id="fp"><g fill="none" stroke="#e3a02e" stroke-width="2.3" stroke-linecap="round"><path d="M1533.2 414.1 V403.6 Q1533.2 397.6 1539.2 397.6 H1550.7"/><path d="M1562.7 397.6 H1574.2 Q1580.2 397.6 1580.2 403.6 V414.1"/><path d="M1580.2 427.9 V438.4 Q1580.2 444.4 1574.2 444.4 H1562.7"/><path d="M1550.7 444.4 H1539.2 Q1533.2 444.4 1533.2 438.4 V427.9"/></g><g fill="none" stroke="#444" stroke-width="1.6" stroke-linecap="round" transform="rotate(-14 1556.9 423.6)"><polyline points="1547.8,408.1 1548.4,407.8 1549.0,407.4 1549.6,407.1 1550.2,406.8 1550.9,406.5 1551.5,406.3 1552.2,406.1 1552.8,405.9 1553.5,405.7 1554.2,405.6 1554.8,405.5 1555.5,405.4 1556.2,405.4 1556.9,405.4 1557.6,405.4 1558.3,405.4 1559.0,405.5 1559.6,405.6 1560.3,405.7 1561.0,405.9 1561.6,406.1 1562.3,406.3 1562.9,406.5 1563.6,406.8 1564.2,407.1 1564.8,407.4 1565.4,407.8 1566.0,408.1"/><polyline points="1542.9,420.4 1543.3,419.0 1543.7,417.7 1544.3,416.4 1545.0,415.1 1545.9,414.0 1546.8,412.9 1547.8,411.9 1548.9,411.0 1550.1,410.3 1551.3,409.6 1552.6,409.1 1553.9,408.8 1555.3,408.5 1556.7,408.4 1558.0,408.5 1559.4,408.7 1560.7,409.0 1562.0,409.4 1563.3,410.0 1564.5,410.7 1565.6,411.6 1566.7,412.5 1567.6,413.6 1568.5,414.7 1569.2,415.9 1569.9,417.2 1570.4,418.5 1570.8,419.9"/><polyline points="1546.7,432.2 1546.1,429.6 1545.8,426.9 1545.6,424.1 1545.7,422.3 1545.9,420.7 1546.4,419.1 1547.1,417.7 1547.9,416.3 1549.0,415.1 1550.1,414.0 1551.4,413.1 1552.8,412.4 1554.3,411.9 1555.8,411.7 1557.4,411.6 1558.9,411.8 1560.4,412.2 1561.8,412.8 1563.2,413.6 1564.4,414.6 1565.5,415.8 1566.4,417.1 1567.1,418.5 1567.7,420.0 1568.0,421.6 1568.2,423.3 1568.1,425.8 1567.9,428.5"/><polyline points="1550.7,433.6 1549.9,431.7 1549.3,429.5 1548.8,427.2 1548.6,424.8 1548.6,422.9 1548.9,421.5 1549.3,420.1 1549.9,418.8 1550.8,417.7 1551.7,416.7 1552.9,415.9 1554.1,415.3 1555.4,414.9 1556.8,414.8 1558.1,414.9 1559.4,415.2 1560.7,415.8 1561.8,416.5 1562.8,417.5 1563.7,418.6 1564.4,419.8 1564.9,421.2 1565.1,422.6 1565.2,424.3 1565.0,426.7 1564.6,429.0 1564.0,431.2 1563.3,433.2"/><polyline points="1554.2,431.9 1553.4,430.8 1552.7,429.5 1552.2,428.0 1551.8,426.4 1551.6,424.6 1551.6,423.1 1551.8,422.1 1552.1,421.1 1552.7,420.2 1553.3,419.4 1554.1,418.8 1555.0,418.3 1556.0,418.1 1557.0,418.0 1558.0,418.1 1558.9,418.4 1559.8,418.9 1560.6,419.6 1561.2,420.4 1561.7,421.3 1562.1,422.3 1562.2,423.3 1562.1,424.9 1561.9,426.7 1561.5,428.3 1560.9,429.8 1560.2,431.0 1559.4,432.0"/><polyline points="1554.5,424.4 1554.5,423.6 1554.5,423.1 1554.7,422.7 1554.8,422.3 1555.1,421.9 1555.4,421.6 1555.7,421.4 1556.1,421.2 1556.5,421.1 1557.0,421.1 1557.4,421.1 1557.8,421.2 1558.2,421.5 1558.5,421.7 1558.8,422.1 1559.0,422.4 1559.2,422.9 1559.3,423.3 1559.3,423.9 1559.2,424.6 1559.1,425.3 1558.9,426.0 1558.6,426.6 1558.3,427.1 1557.9,427.5 1557.5,427.8 1557.1,427.9 1556.7,427.9"/></g></g><g id="face"><g fill="none" stroke="#e3a02e" stroke-width="2.3"><path d="M 1621.0 409.3 V 396.8 H 1635.2"/><path d="M 1651.0 396.8 H 1665.0 V 409.3"/><path d="M 1665.0 429.8 V 442.3 H 1651.0"/><path d="M 1635.2 442.3 H 1621.0 V 429.8"/></g><g fill="none" stroke="#e3a02e" stroke-width="1.2" stroke-linecap="round" stroke-linejoin="round"><path d="M 1627.3 418.3 C 1625.8 407.5 1633.3 399.3 1642.9 399.3 C 1652.5 399.3 1660.0 407.5 1658.5 418.3"/><path d="M 1630.2 418.2 C 1629.8 412.5 1634.2 407.5 1639.3 405.7 C 1640.4 408.8 1645.0 410.0 1650.0 410.4 C 1654.2 411.0 1656.0 414.2 1655.8 418.2"/><path d="M 1628.8 422.1 C 1626.7 421.7 1626.5 425.0 1629.8 425.2 C 1631.7 433.3 1638.3 437.5 1642.9 437.7 C 1647.5 437.5 1654.2 433.3 1656.0 425.2 C 1659.3 425.0 1659.2 421.7 1657.1 422.1"/><path d="M 1634.3 416.0 Q 1636.8 413.3 1639.3 416.0"/><path d="M 1646.0 416.0 Q 1648.5 413.3 1651.0 416.0"/><path d="M 1641.8 424.0 L 1642.7 426.2"/></g><path d="M 1626.0 418.7 H 1659.0 V 421.3 H 1626.0 Z" fill="#fdf3dc" stroke="#e3a02e" stroke-width="1.2"/><path d="M 1628.3 418.7 L 1631.7 419.3 L 1635.0 418.7 L 1638.3 419.3 L 1641.7 418.7 L 1645.0 419.3 L 1648.3 418.7 L 1651.7 419.3 L 1655.0 418.7 L 1657.5 419.3" fill="none" stroke="#e3a02e" stroke-width="0.9"/></g><g id="turn"><path d="M 1695.5 396.0 H 1764.0 V 443.6 H 1695.5 Z" fill="url(#gTurn)"/><path d="M 1719.9 434.2 H 1764.0 V 443.6 H 1719.9 Z" fill="#d2d4d6"/><path d="M 1696.0 396.6 L 1719.4 396.6 L 1720.2 401.7 L 1697.1 401.7 Z" fill="#dcdcde"/><path d="M 1697.1 401.4 H 1720.2 V 443.4 H 1695.5 V 435.3 H 1697.1 Z" fill="url(#gPost)"/><path d="M 1695.5 435.0 H 1720.2 V 443.5 H 1695.5 Z" fill="#a2a2a4"/><ellipse cx="1706.8" cy="398.2" rx="5.1" ry="1.2" fill="#b0323a"/><ellipse cx="1706.8" cy="398.2" rx="3.8" ry="0.6" fill="#7a1a22"/><path d="M 1699.2 405.5 H 1707.0 V 410.8 H 1699.2 Z" fill="#1c1c1e"/><path d="M 1700.1 406.5 H 1706.2 V 407.6 H 1700.1 Z" fill="#e4e4e4"/><path d="M 1701.1 408.7 H 1706.5 V 409.5 H 1701.1 Z" fill="#888"/><path d="M 1708.9 410.6 H 1711.9 V 434.2 H 1708.9 Z" fill="#f4f4f6"/><path d="M 1712.2 410.6 H 1714.3 V 432.6 H 1712.2 Z" fill="#8e8e90"/><path d="M 1714.3 410.0 L 1759.2 409.1 Q 1762.7 409.2 1762.7 412.2 V 422.9 Q 1762.7 425.9 1759.7 426.1 L 1717.3 427.5 Q 1714.3 427.5 1714.3 425.6 Z" fill="#f1f3f4" stroke="#b4b6ba" stroke-width="0.8"/><path d="M 1735.3 409.6 H 1749.5 V 425.1 H 1735.3 Z" fill="#1fa9e2"/><path d="M 1742.4 411.1 L 1747.4 416.5 H 1744.1 V 424.0 H 1740.6 V 416.5 H 1737.4 Z" fill="#fff"/></g><g id="led"><rect x="1537.2" y="509.0" width="87.0" height="59.7" fill="#1d0405"/><rect x="1540.8" y="513.0" width="76.3" height="46.8" fill="#3c0b10" opacity="0.75" filter="url(#soft)"/><rect x="1621.5" y="509.0" width="2.7" height="59.7" fill="#0e0202"/><rect x="1537.2" y="563.7" width="84.6" height="3.5" fill="#2a0a0c"/><g filter="url(#ledblur)"><rect x="1540.6" y="513.7" width="8.2" height="1.6" fill="#f0364a" opacity="0.92"/><rect x="1552.8" y="513.7" width="6.2" height="1.6" fill="#e24040" opacity="0.81"/><rect x="1562.7" y="513.7" width="5.6" height="1.6" fill="#e24040" opacity="0.82"/><rect x="1571.2" y="513.7" width="6.7" height="1.6" fill="#e24040" opacity="0.71"/><rect x="1582.1" y="513.7" width="5.2" height="1.6" fill="#e24040" opacity="0.84"/><rect x="1591.3" y="513.7" width="5.0" height="1.6" fill="#ee5a5a" opacity="0.94"/><rect x="1540.4" y="516.9" width="8.8" height="1.6" fill="#f0364a" opacity="0.66"/><rect x="1553.3" y="516.9" width="5.3" height="1.6" fill="#e24040" opacity="0.62"/><rect x="1562.2" y="516.9" width="5.6" height="1.6" fill="#e24040" opacity="0.61"/><rect x="1571.6" y="516.9" width="6.0" height="1.6" fill="#e24040" opacity="0.89"/><rect x="1581.3" y="516.9" width="6.0" height="1.6" fill="#e24040" opacity="0.77"/><rect x="1589.9" y="516.9" width="6.1" height="1.6" fill="#ee5a5a" opacity="0.70"/><rect x="1539.8" y="520.0" width="9.7" height="1.6" fill="#f0364a" opacity="0.89"/><rect x="1552.5" y="520.0" width="6.7" height="1.6" fill="#f4a070" opacity="0.68"/><rect x="1561.9" y="520.0" width="5.8" height="1.6" fill="#f4a878" opacity="0.87"/><rect x="1572.2" y="520.0" width="5.9" height="1.6" fill="#f4a070" opacity="0.74"/><rect x="1580.8" y="520.0" width="6.9" height="1.6" fill="#f09a6a" opacity="0.60"/><rect x="1590.9" y="520.0" width="5.3" height="1.6" fill="#ee5a5a" opacity="0.76"/><rect x="1539.8" y="523.1" width="9.7" height="1.6" fill="#f0364a" opacity="0.63"/><rect x="1552.9" y="523.1" width="6.5" height="1.6" fill="#f4a070" opacity="0.69"/><rect x="1562.4" y="523.1" width="5.4" height="1.6" fill="#f4a878" opacity="0.94"/><rect x="1571.2" y="523.1" width="6.6" height="1.6" fill="#f4a070" opacity="0.69"/><rect x="1580.8" y="523.1" width="5.2" height="1.6" fill="#f09a6a" opacity="0.88"/><rect x="1590.4" y="523.1" width="5.2" height="1.6" fill="#ee5a5a" opacity="0.76"/><rect x="1541.4" y="526.3" width="7.5" height="1.6" fill="#f0364a" opacity="0.65"/><rect x="1552.3" y="526.3" width="6.6" height="1.6" fill="#f4a070" opacity="0.75"/><rect x="1562.2" y="526.3" width="5.7" height="1.6" fill="#f4a878" opacity="0.94"/><rect x="1571.3" y="526.3" width="6.7" height="1.6" fill="#f4a070" opacity="0.91"/><rect x="1581.3" y="526.3" width="5.4" height="1.6" fill="#f09a6a" opacity="0.90"/><rect x="1589.6" y="526.3" width="6.1" height="1.6" fill="#ee5a5a" opacity="0.95"/><rect x="1540.3" y="529.4" width="7.6" height="1.6" fill="#f0364a" opacity="0.87"/><rect x="1552.7" y="529.4" width="5.9" height="1.6" fill="#f4a070" opacity="0.63"/><rect x="1562.9" y="529.4" width="5.4" height="1.6" fill="#f4a878" opacity="0.69"/><rect x="1571.5" y="529.4" width="6.3" height="1.6" fill="#f4a070" opacity="0.76"/><rect x="1580.7" y="529.4" width="6.9" height="1.6" fill="#f09a6a" opacity="0.80"/><rect x="1589.6" y="529.4" width="6.5" height="1.6" fill="#ee5a5a" opacity="0.65"/><rect x="1540.0" y="532.6" width="9.5" height="1.6" fill="#f0364a" opacity="0.69"/><rect x="1553.5" y="532.6" width="5.6" height="1.6" fill="#f4a070" opacity="0.93"/><rect x="1563.4" y="532.6" width="5.6" height="1.6" fill="#f4a878" opacity="0.91"/><rect x="1571.5" y="532.6" width="6.3" height="1.6" fill="#f4a070" opacity="0.64"/><rect x="1582.5" y="532.6" width="5.1" height="1.6" fill="#f09a6a" opacity="0.68"/><rect x="1589.7" y="532.6" width="6.2" height="1.6" fill="#ee5a5a" opacity="0.89"/><rect x="1540.1" y="535.7" width="8.6" height="1.6" fill="#f0364a" opacity="0.66"/><rect x="1552.3" y="535.7" width="6.7" height="1.6" fill="#f4a070" opacity="0.68"/><rect x="1562.6" y="535.7" width="6.4" height="1.6" fill="#f4a878" opacity="0.82"/><rect x="1572.5" y="535.7" width="5.7" height="1.6" fill="#f4a070" opacity="0.67"/><rect x="1581.2" y="535.7" width="5.0" height="1.6" fill="#f09a6a" opacity="0.76"/><rect x="1589.9" y="535.7" width="5.0" height="1.6" fill="#ee5a5a" opacity="0.73"/><rect x="1539.9" y="538.9" width="8.6" height="1.6" fill="#f0364a" opacity="0.73"/><rect x="1552.5" y="538.9" width="7.1" height="1.6" fill="#f4a070" opacity="0.83"/><rect x="1562.2" y="538.9" width="6.7" height="1.6" fill="#f4a878" opacity="0.65"/><rect x="1571.2" y="538.9" width="5.2" height="1.6" fill="#f4a070" opacity="0.92"/><rect x="1581.3" y="538.9" width="6.4" height="1.6" fill="#f09a6a" opacity="0.61"/><rect x="1589.9" y="538.9" width="6.1" height="1.6" fill="#ee5a5a" opacity="0.86"/><rect x="1541.6" y="542.0" width="7.9" height="1.6" fill="#f0364a" opacity="0.63"/><rect x="1552.9" y="542.0" width="6.4" height="1.6" fill="#f4a070" opacity="0.92"/><rect x="1562.2" y="542.0" width="6.7" height="1.6" fill="#f4a878" opacity="0.88"/><rect x="1571.2" y="542.0" width="6.9" height="1.6" fill="#f4a070" opacity="0.84"/><rect x="1580.9" y="542.0" width="6.7" height="1.6" fill="#f09a6a" opacity="0.75"/><rect x="1589.9" y="542.0" width="6.4" height="1.6" fill="#ee5a5a" opacity="0.80"/><rect x="1540.2" y="545.2" width="8.7" height="1.6" fill="#f0364a" opacity="0.80"/><rect x="1552.3" y="545.2" width="6.5" height="1.6" fill="#f4a070" opacity="0.82"/><rect x="1561.8" y="545.2" width="7.3" height="1.6" fill="#f4a878" opacity="0.85"/><rect x="1572.1" y="545.2" width="5.9" height="1.6" fill="#f4a070" opacity="0.80"/><rect x="1581.6" y="545.2" width="5.9" height="1.6" fill="#f09a6a" opacity="0.63"/><rect x="1589.6" y="545.2" width="6.3" height="1.6" fill="#ee5a5a" opacity="0.81"/><rect x="1540.1" y="548.3" width="8.3" height="1.6" fill="#f0364a" opacity="0.84"/><rect x="1552.9" y="548.3" width="6.3" height="1.6" fill="#f4a070" opacity="0.92"/><rect x="1561.8" y="548.3" width="5.8" height="1.6" fill="#f4a878" opacity="0.71"/><rect x="1571.3" y="548.3" width="6.5" height="1.6" fill="#f4a070" opacity="0.66"/><rect x="1580.8" y="548.3" width="6.8" height="1.6" fill="#f09a6a" opacity="0.75"/><rect x="1589.6" y="548.3" width="6.6" height="1.6" fill="#ee5a5a" opacity="0.83"/><rect x="1540.7" y="551.5" width="7.5" height="1.6" fill="#f0364a" opacity="0.88"/><rect x="1552.4" y="551.5" width="7.1" height="1.6" fill="#f4a070" opacity="0.73"/><rect x="1562.1" y="551.5" width="6.4" height="1.6" fill="#f4a878" opacity="0.65"/><rect x="1572.0" y="551.5" width="6.1" height="1.6" fill="#f4a070" opacity="0.90"/><rect x="1581.2" y="551.5" width="6.4" height="1.6" fill="#f09a6a" opacity="0.70"/><rect x="1590.3" y="551.5" width="5.2" height="1.6" fill="#ee5a5a" opacity="0.70"/><rect x="1540.7" y="554.6" width="7.6" height="1.6" fill="#f0364a" opacity="0.82"/><rect x="1552.6" y="554.6" width="6.3" height="1.6" fill="#f4a070" opacity="0.89"/><rect x="1561.8" y="554.6" width="7.2" height="1.6" fill="#f4a878" opacity="0.63"/><rect x="1572.9" y="554.6" width="5.2" height="1.6" fill="#f4a070" opacity="0.61"/><rect x="1581.0" y="554.6" width="6.4" height="1.6" fill="#f09a6a" opacity="0.71"/><rect x="1589.6" y="554.6" width="6.4" height="1.6" fill="#ee5a5a" opacity="0.65"/><rect x="1598.1" y="513.9" width="14.7" height="1.6" fill="#e83a44" opacity="0.85"/><rect x="1598.1" y="527.2" width="14.7" height="1.6" fill="#e83a44" opacity="0.85"/><rect x="1598.1" y="536.6" width="14.7" height="1.6" fill="#e83a44" opacity="0.85"/><rect x="1598.1" y="549.2" width="14.7" height="1.6" fill="#e83a44" opacity="0.85"/><rect x="1539.1" y="560.0" width="6.5" height="1.4" fill="#e83a44" opacity="0.8"/></g></g><g id="barrier"><rect x="1532.9" y="647.9" width="12.9" height="6.0" fill="#dfdfdf"/><rect x="1546.0" y="647.9" width="14.2" height="6.0" fill="#ea5b66"/><rect x="1560.2" y="647.9" width="12.8" height="6.0" fill="#dfe2e5"/><rect x="1573.0" y="647.9" width="14.1" height="6.0" fill="#ea5b66"/><rect x="1587.1" y="647.9" width="12.8" height="6.0" fill="#dfe2e5"/><rect x="1599.8" y="647.9" width="14.2" height="6.0" fill="#ea5b66"/><rect x="1614.0" y="647.9" width="12.7" height="6.0" fill="#dedede"/><path d="M 1626.2 697.1 L 1626.2 641.5 L 1635.4 632.9 L 1644.3 641.5 L 1644.3 697.1 Z" fill="#f0b368"/><rect x="1630.2" y="647.9" width="10.3" height="29.7" rx="5.2" fill="#fff7ea"/><path d="M 1631.7 655.6 L 1635.4 652.2 L 1639.2 655.6" fill="none" stroke="#9c8a68" stroke-width="1"/><path d="M 1631.7 661.4 L 1635.4 658.1 L 1639.2 661.4" fill="none" stroke="#9c8a68" stroke-width="1"/><path d="M 1631.7 667.2 L 1635.4 663.9 L 1639.2 667.2" fill="none" stroke="#9c8a68" stroke-width="1"/><path d="M 1631.7 672.8 L 1635.4 669.5 L 1639.2 672.8" fill="none" stroke="#9c8a68" stroke-width="1"/><circle cx="1635.4" cy="688.3" r="6.7" fill="#fff7ea"/><path d="M 1635.4 694.6 L 1635.4 685.0 M 1632.1 687.9 L 1635.4 684.3 L 1638.8 687.9" fill="none" stroke="#9c8a68" stroke-width="1"/></g><g id="cam"><path d="M 1530.4 782.9 Q 1530.4 782.3 1531.3 782.3 L 1547.8 782.3 L 1547.8 798.7 L 1530.4 798.3 Z" fill="#a4a4a6"/><path d="M 1533.0 785.7 L 1547.8 788.1 L 1547.8 795.7 L 1536.0 797.6 Z" fill="#c4c4c6"/><path d="M 1547.8 788.1 L 1563.4 785.7 L 1575.5 787.0 L 1574.6 789.6 L 1561.6 790.5 L 1547.8 795.7 Z" fill="#b6b6b8"/><path d="M 1547.8 791.8 L 1561.6 789.2 L 1574.6 789.6 L 1561.6 790.7 L 1547.8 795.9 Z" fill="#a0a0a2"/><path d="M 1563.8 774.5 L 1572.0 777.9 L 1573.1 785.7 L 1562.9 785.3 Z" fill="#b2b2b4"/><path d="M 1566.8 775.8 L 1569.9 777.1 L 1570.7 785.3 L 1566.4 785.1 Z" fill="#d0d0d2"/><ellipse cx="1569.0" cy="786.9" rx="6.8" ry="2.3" fill="#c9c9cb"/><path d="M 1550.5 756.7 L 1580.7 761.0 L 1579.7 780.5 L 1560.8 771.4 Q 1551.7 767.1 1550.5 756.7 Z" fill="url(#gCam)"/><path d="M 1550.4 752.8 Q 1551.2 746.1 1557.7 745.0 L 1602.8 756.1 Q 1606.7 757.4 1605.7 761.0 L 1604.6 764.9 L 1586.3 755.1 L 1580.7 761.2 L 1550.5 757.4 Z" fill="#a9a9ab"/><path d="M 1551.2 753.6 Q 1552.3 748.0 1557.7 746.7 L 1585.9 753.6 L 1580.7 760.2 L 1551.2 756.2 Z" fill="#b4b4b6"/><path d="M 1580.7 761.0 L 1586.3 755.1 L 1601.1 756.7 L 1605.7 761.2 L 1604.0 776.6 L 1598.5 782.5 L 1582.6 781.1 L 1578.8 777.7 Z" fill="#ececee" stroke="#d2d2d4" stroke-width="0.5"/><path d="M 1582.3 762.3 L 1598.8 763.6 Q 1600.7 764.0 1600.3 766.0 L 1598.6 778.4 Q 1598.1 780.2 1596.3 780.0 L 1580.9 778.4 Q 1579.1 778.0 1579.3 776.3 L 1580.7 763.8 Q 1581.0 762.1 1582.3 762.3 Z" fill="#2b2b2f"/><circle cx="1587.0" cy="769.7" r="4.5" fill="#0d0d0f"/><circle cx="1587.0" cy="769.7" r="3.1" fill="none" stroke="#3c3c42" stroke-width="0.9"/><circle cx="1586.3" cy="769.5" r="1.7" fill="#050506"/></g><g id="gas"><path d="M 1590.8 907.1 L 1601.2 916.5" fill="none" stroke="#c4c4c6" stroke-width="2.4" stroke-linecap="round"/><path d="M 1587.9 912.5 L 1598.2 921.0" fill="none" stroke="#b0a8a8" stroke-width="2.6" stroke-linecap="round"/><path d="M 1588.5 912.5 L 1598.3 920.5" fill="none" stroke="#e4e4e6" stroke-width="0.9" stroke-linecap="round"/><path d="M 1583.2 882.9 L 1583.2 874.0 Q 1583.3 869.2 1589.0 869.2 L 1602.7 881.0 L 1599.8 884.3 L 1588.2 874.7 Q 1587.7 874.3 1587.7 875.3 L 1587.8 882.9 Z" fill="#a8a0a0"/><path d="M 1584.2 882.5 L 1584.2 874.2 Q 1584.3 870.5 1588.8 870.3 L 1601.2 881.2 L 1600.2 882.5 L 1588.8 872.8 Q 1586.7 871.7 1586.5 875.0 L 1586.7 882.5 Z" fill="#dedada"/><path d="M 1583.2 882.9 L 1583.2 874.0 Q 1583.3 870.8 1585.8 869.7 Q 1584.3 871.7 1584.3 875.0 L 1584.5 882.9 Z" fill="#8e8484"/><path d="M 1588.5 881.5 L 1592.8 878.0 L 1599.0 884.3 L 1595.2 888.3 Z" fill="#1c1c20"/><path d="M 1592.8 878.0 L 1599.0 884.3 L 1598.2 885.2 L 1592.2 878.7 Z" fill="#4a4a50"/><path d="M 1588.3 890.8 L 1595.4 893.5 Q 1598.8 894.8 1597.9 897.5 L 1593.3 901.7 L 1587.5 901.7 Z" fill="#1c6fd0"/><path d="M 1574.2 913.3 L 1578.3 917.9 L 1593.3 909.2 L 1591.7 905.0 Z" fill="#1a62c2"/><path d="M 1575.0 914.6 Q 1575.0 917.5 1577.5 917.5 L 1579.6 916.2 L 1577.5 913.3 Z" fill="#1658b0"/><circle cx="1575.7" cy="898.3" r="15.5" fill="url(#gGas)"/><circle cx="1575.7" cy="898.8" r="10.7" fill="#2a2a20"/><circle cx="1576.0" cy="899.2" r="9.7" fill="#e6c81e"/><path d="M 1567.9 904.2 Q 1571.7 908.3 1577.5 908.3 Q 1581.7 907.9 1584.2 904.2 Q 1580.0 906.7 1575.8 906.5 Q 1571.7 906.2 1567.9 904.2 Z" fill="#f2e060" opacity="0.8"/><rect x="1571.0" y="897.3" width="11.7" height="5.2" fill="#8c8c7c" stroke="#4a4a3a" stroke-width="0.7" transform="rotate(-32 1576.8 900.0)"/><path d="M 1574.6 898.8 L 1573.3 901.7 M 1577.5 897.1 L 1576.2 900.0 M 1580.4 895.7 L 1579.2 898.5" fill="none" stroke="#5a5a4a" stroke-width="0.5"/></g><g id="globe" filter="url(#darken)"><polygon points="1545.2,999.6 1550.0,999.0 1552.2,1000.5 1552.2,1009.6 1545.5,1009.6" fill="#b88c4a"/><polygon points="1545.2,999.6 1550.0,999.0 1552.2,1000.5 1547.3,1001.2" fill="#d0a866"/><polygon points="1596.8,999.3 1602.3,998.7 1602.4,1014.5 1596.8,1014.2" fill="#c09450"/><polygon points="1596.8,999.3 1599.5,999.0 1599.8,1014.2 1596.8,1014.2" fill="#d8b070"/><circle cx="1573.2" cy="997.6" r="20.3" fill="url(#gGlobe)"/><path d="M 1554.0 993.2 Q 1552.2 999.3 1554.3 1005.4 Q 1556.7 1010.8 1561.6 1013.9 Q 1557.3 1009.0 1556.7 1002.3 Q 1556.4 996.9 1558.5 992.0 Z" fill="#5aa04a" opacity="0.95"/><path d="M 1561.6 982.9 Q 1566.4 978.6 1573.7 978.0 Q 1572.5 980.5 1568.9 981.7 Q 1565.2 982.9 1562.8 985.3 Z" fill="#6aa866" opacity="0.8"/><path d="M 1582.2 980.5 Q 1588.3 983.5 1591.9 990.2 Q 1593.1 993.2 1592.8 995.0 Q 1590.1 993.2 1587.7 989.6 Q 1584.6 985.3 1582.2 980.5 Z" fill="#7fb070" opacity="0.85"/><path d="M 1572.5 978.6 Q 1574.9 977.7 1578.0 979.3 Q 1576.1 980.5 1573.7 980.8 Z" fill="#e8f0f0" opacity="0.9"/><path d="M 1577.4 1003.5 Q 1578.6 999.3 1583.4 998.1 Q 1588.3 996.9 1592.5 999.3 Q 1594.4 1002.3 1593.1 1006.6 Q 1590.1 1010.8 1584.6 1011.4 Q 1579.8 1011.4 1577.4 1007.8 Z" fill="#dcd6cc"/><path d="M 1590.1 995.0 Q 1593.1 995.0 1593.8 997.5 Q 1591.3 998.7 1589.5 997.5 Z" fill="#16306a"/><path d="M 1592.5 1000.5 Q 1597.4 999.3 1598.0 1003.5 L 1598.0 1013.9 L 1590.7 1013.9 Q 1593.8 1009.0 1592.5 1000.5 Z" fill="#141420" opacity="0.92"/><path d="M 1561.6 1013.9 Q 1568.9 1018.7 1578.6 1017.5 Q 1584.6 1016.9 1589.5 1013.9 L 1587.1 1018.7 L 1564.0 1018.7 Z" fill="#0c1838" opacity="0.9"/><polygon points="1543.1,1011.4 1547.6,1009.6 1550.3,1011.4 1550.3,1016.9 1545.8,1018.4 1543.1,1016.9" fill="#c09852"/><polygon points="1543.1,1011.4 1547.6,1009.6 1550.3,1011.4 1545.9,1013.1" fill="#dab66e"/><polygon points="1548.2,1014.8 1554.3,1012.6 1557.0,1014.5 1557.0,1017.5 1551.3,1019.3 1548.2,1017.8" fill="#c8a058"/><polygon points="1548.2,1014.8 1554.3,1012.6 1557.0,1014.5 1551.3,1016.4" fill="#e0bc76"/><polygon points="1541.8,1022.1 1556.1,1016.4 1564.0,1018.8 1564.0,1027.3 1550.0,1033.4 1542.1,1028.6" fill="#c1964e"/><polygon points="1541.8,1022.1 1556.1,1016.4 1564.0,1018.8 1550.0,1024.5" fill="#dcb66c"/><polygon points="1550.0,1024.5 1564.0,1018.8 1564.0,1027.3 1550.0,1033.4" fill="#a87c38"/><path d="M 1557.6 1023.6 L 1564.0 1021.1 L 1564.0 1027.3 L 1557.6 1029.9 Z" fill="#6a4a1c" opacity="0.55"/><polygon points="1564.6,1014.8 1569.2,1012.2 1575.1,1014.6 1575.1,1033.4 1569.6,1034.6 1564.6,1031.6" fill="#c69c54"/><polygon points="1564.6,1014.8 1569.2,1012.2 1575.1,1014.6 1570.2,1016.9" fill="#e4c07a"/><polygon points="1570.2,1016.9 1575.1,1014.6 1575.1,1033.4 1569.6,1034.6" fill="#b08440"/><polygon points="1556.1,1028.6 1562.8,1026.6 1566.6,1031.5 1559.9,1037.1" fill="#cba25c"/><polygon points="1556.1,1028.6 1562.8,1026.6 1564.0,1028.1 1557.4,1030.4" fill="#e2be78"/><polygon points="1575.7,1021.3 1580.5,1018.8 1586.0,1021.3 1586.0,1034.6 1576.3,1035.8" fill="#c49a52"/><polygon points="1575.7,1021.3 1580.5,1018.8 1586.0,1021.3 1581.1,1023.6" fill="#e2be78"/><polygon points="1581.1,1023.6 1586.0,1021.3 1586.0,1034.6 1581.7,1035.2" fill="#ae823e"/><rect x="1577.1" y="1023.9" width="6.1" height="1.6" fill="#efe2c4"/><polygon points="1587.8,1014.0 1593.9,1011.6 1601.8,1015.2 1601.8,1027.3 1596.9,1030.4 1588.4,1029.2" fill="#c2984f"/><polygon points="1587.8,1014.0 1593.9,1011.6 1601.8,1015.2 1595.7,1017.6" fill="#e0bc76"/><polygon points="1595.7,1017.6 1601.8,1015.2 1601.8,1027.3 1596.9,1030.4" fill="#a67a36"/><rect x="1589.8" y="1019.6" width="5.8" height="1.5" fill="#efe2c4"/><path d="M 1586.5 1021.1 L 1588.0 1014.5 L 1588.6 1029.0 L 1586.5 1034.5 Z" fill="#3a2a10" opacity="0.7"/></g></g>
<g id="beacons"><use href="#beacon" x="286.0" y="984"/><use href="#beacon" x="415.8" y="984"/><use href="#beacon" x="543.6" y="984"/><use href="#beacon" x="669.6" y="984"/></g>
<g id="labels">
<text transform="translate(982.5 75.1) scale(1.0 0.97)" font-size="48" font-weight="500" letter-spacing="1.9" fill="#0a62cc" text-anchor="middle">室内外融合定位</text>
<text transform="translate(151.8 259.2) scale(1.0 0.96)" font-size="28" font-weight="700" letter-spacing="-0.4" fill="#000" text-anchor="middle">室外定位</text>
<text transform="translate(127.2 946.9) scale(1.0 0.96)" font-size="28" font-weight="700" letter-spacing="-0.6" fill="#000" text-anchor="middle">室内定位</text>
<text transform="translate(318.8 184.3) scale(1.0 0.94)" font-size="20" font-weight="500" letter-spacing="1.6" fill="#000" text-anchor="middle">卫星</text>
<text transform="translate(447.1 184.3) scale(1.0 0.94)" font-size="20" font-weight="500" letter-spacing="1.6" fill="#000" text-anchor="middle">卫星</text>
<text transform="translate(575.8 184.3) scale(1.0 0.94)" font-size="20" font-weight="500" letter-spacing="1.6" fill="#000" text-anchor="middle">卫星</text>
<text transform="translate(704.3 184.3) scale(1.0 0.94)" font-size="20" font-weight="500" letter-spacing="1.6" fill="#000" text-anchor="middle">卫星</text>
<text transform="translate(322.9 391.5) scale(1.0 0.94)" font-size="20" font-weight="500" letter-spacing="1.8" fill="#000" text-anchor="middle">测量伪距</text>
<text transform="translate(368.0 722.4) scale(1.0 0.94)" font-size="20" font-weight="700" fill="#000" text-anchor="middle">人员定位卡</text>
<text transform="translate(528.3 724.6) scale(1.0 0.94)" font-size="20" font-weight="700" fill="#000" text-anchor="middle">手持对讲终端</text>
<text transform="translate(672.5 725.3) scale(1.0 0.94)" font-size="20" font-weight="700" letter-spacing="0.2" fill="#000" text-anchor="middle">智慧安全帽</text>
<text transform="translate(534.6 777.4) scale(1.0 1.0)" font-size="13" font-weight="700" letter-spacing="0.3" fill="#000" text-anchor="middle">定位方式：<tspan font-weight="400" font-size="12" letter-spacing="-0.2">GPS/</tspan>北斗<tspan font-weight="400" font-size="12" letter-spacing="-0.2">/ RTK</tspan>差分定位</text>
<text transform="translate(988.0 443.0) scale(1.0 0.94)" font-size="20" font-weight="500" letter-spacing="1.3" fill="#000" text-anchor="start">通过真实值与伪距</text>
<text transform="translate(987.6 466.1) scale(1.0 0.94)" font-size="20" font-weight="500" letter-spacing="1.4" fill="#000" text-anchor="start">比较得到修正值</text>
<text transform="translate(918.0 616.2) scale(1.0 0.94)" font-size="17.5" font-weight="400" letter-spacing="0.6" fill="#222" text-anchor="middle">发送修正值</text>
<text transform="translate(1052.8 666.3) scale(1.0 0.9)" font-size="20" font-weight="500" letter-spacing="0.9" fill="#000" text-anchor="middle">RTK差分基站</text>
<text transform="translate(978.0 810.4) scale(1.0 0.97)" font-size="20" font-weight="700" fill="#fff" text-anchor="middle" fill-opacity="0.8">4G云平台</text>
<text transform="translate(326.0 1085.9) scale(1.0 0.94)" font-size="20" font-weight="500" letter-spacing="1.4" fill="#000" text-anchor="middle">信标</text>
<text transform="translate(454.9 1085.9) scale(1.0 0.94)" font-size="20" font-weight="500" letter-spacing="1.4" fill="#000" text-anchor="middle">信标</text>
<text transform="translate(583.8 1085.9) scale(1.0 0.94)" font-size="20" font-weight="500" letter-spacing="1.4" fill="#000" text-anchor="middle">信标</text>
<text transform="translate(712.4 1085.9) scale(1.0 0.94)" font-size="20" font-weight="500" letter-spacing="1.4" fill="#000" text-anchor="middle">信标</text>
<text transform="translate(1243.0 879.2) scale(1.0 0.92)" font-size="16.5" font-weight="700" letter-spacing="0.3" fill="#222" text-anchor="middle">服务器</text>
<text transform="translate(1569.0 352.9) scale(1.0 0.93)" font-size="14.5" font-weight="700" letter-spacing="0.1" fill="#1a1a1a" text-anchor="middle">安检门</text>
<text transform="translate(1559.8 467.3) scale(1.0 0.93)" font-size="14.5" font-weight="700" letter-spacing="0.1" fill="#1a1a1a" text-anchor="middle">指纹</text>
<text transform="translate(1645.0 467.3) scale(1.0 0.93)" font-size="14.5" font-weight="700" letter-spacing="0.1" fill="#1a1a1a" text-anchor="middle">人脸识别</text>
<text transform="translate(1734.5 468.3) scale(1.0 0.93)" font-size="14.5" font-weight="700" letter-spacing="0.1" fill="#1a1a1a" text-anchor="middle">道闸</text>
<text transform="translate(1581.5 587.5) scale(1.0 0.93)" font-size="14.5" font-weight="700" letter-spacing="0.1" fill="#1a1a1a" text-anchor="middle"><tspan font-weight="400" font-size="14.8">LED</tspan>屏</text>
<text transform="translate(1574.8 701.1) scale(1.0 0.93)" font-size="14.5" font-weight="700" letter-spacing="0.1" fill="#1a1a1a" text-anchor="middle">车辆道闸</text>
<text transform="translate(1575.0 819.0) scale(1.0 0.93)" font-size="14.5" font-weight="700" letter-spacing="0.1" fill="#1a1a1a" text-anchor="middle">摄像头</text>
<text transform="translate(1581.6 938.1) scale(1.0 0.93)" font-size="14.5" font-weight="700" letter-spacing="0.1" fill="#1a1a1a" text-anchor="middle">气体检测探头</text>
<text transform="translate(1573.8 1054.8) scale(1.0 0.93)" font-size="14.5" font-weight="700" letter-spacing="0.1" fill="#1a1a1a" text-anchor="middle">物资检测</text>
</g>
</svg>
</body>
</html>
